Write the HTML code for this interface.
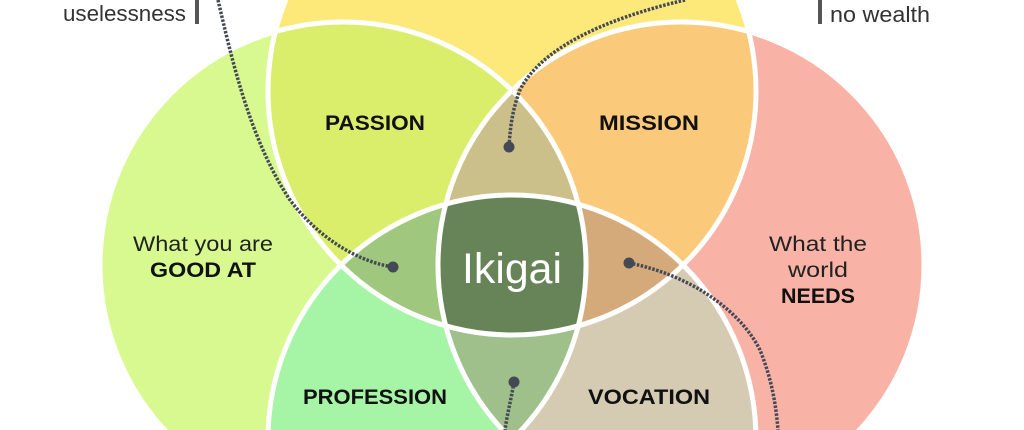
<!DOCTYPE html>
<html><head><meta charset="utf-8"><style>
html,body{margin:0;padding:0;background:#fff;width:1024px;height:430px;overflow:hidden}
svg{display:block;overflow:hidden}
text{font-family:"Liberation Sans","DejaVu Sans",sans-serif}
</style></head><body>
<svg width="1024" height="430" viewBox="0 0 1024 430" xmlns="http://www.w3.org/2000/svg">
<defs>
<clipPath id="cT"><circle cx="512" cy="91" r="244"/></clipPath>
<clipPath id="cL"><circle cx="343" cy="265" r="243"/></clipPath>
<clipPath id="cR"><circle cx="681" cy="265" r="243"/></clipPath>
<clipPath id="cB"><circle cx="512" cy="439" r="244"/></clipPath>
</defs>
<circle cx="343" cy="265" r="243" fill="#d8f98f"/>
<circle cx="681" cy="265" r="243" fill="#f9b2a6"/>
<circle cx="512" cy="439" r="244" fill="#c4dca8"/>
<circle cx="512" cy="91" r="244" fill="#fde97a"/>
<g clip-path="url(#cT)"><rect width="1024" height="430" fill="#dbee6c" clip-path="url(#cL)"/></g>
<g clip-path="url(#cT)"><rect width="1024" height="430" fill="#fbc97a" clip-path="url(#cR)"/></g>
<g clip-path="url(#cB)"><rect width="1024" height="430" fill="#a6f5a6" clip-path="url(#cL)"/></g>
<g clip-path="url(#cB)"><rect width="1024" height="430" fill="#d5cbb3" clip-path="url(#cR)"/></g>
<g clip-path="url(#cT)"><g clip-path="url(#cL)"><rect width="1024" height="430" fill="#cbbf8a" clip-path="url(#cR)"/></g></g>
<g clip-path="url(#cB)"><g clip-path="url(#cL)"><rect width="1024" height="430" fill="#9fc08a" clip-path="url(#cR)"/></g></g>
<g clip-path="url(#cT)"><g clip-path="url(#cL)"><rect width="1024" height="430" fill="#a0c77e" clip-path="url(#cB)"/></g></g>
<g clip-path="url(#cT)"><g clip-path="url(#cR)"><rect width="1024" height="430" fill="#d5aa7a" clip-path="url(#cB)"/></g></g>
<g clip-path="url(#cT)"><g clip-path="url(#cL)"><g clip-path="url(#cR)"><rect width="1024" height="430" fill="#668458" clip-path="url(#cB)"/></g></g></g>
<g fill="none" stroke="#fff" stroke-width="5">
<circle cx="343" cy="265" r="243"/>
<circle cx="681" cy="265" r="243"/>
<circle cx="512" cy="439" r="244"/>
<circle cx="512" cy="91" r="244"/>
</g>
<g fill="none" stroke="#444a55" stroke-width="3.5" stroke-dasharray="2.5 1.5">
<path d="M218 0 C232 60 250 140 290 200 C320 240 360 262 393 267"/>
<path d="M685 0 C600 20 540 50 520 90 C512 110 510 130 509 147"/>
<path d="M629 263 C690 275 740 310 760 350 C772 380 776 405 778 430"/>
<path d="M514 382 C511 400 507 415 505 430"/>
</g>
<g fill="#444a55">
<circle cx="393" cy="267" r="5.5"/>
<circle cx="509" cy="147" r="5.5"/>
<circle cx="629" cy="263" r="5.5"/>
<circle cx="514" cy="382" r="5.5"/>
</g>
<rect x="195" y="0" width="4" height="24" fill="#555"/>
<text x="186" y="21" font-size="22" fill="#333" text-anchor="end" textLength="123" lengthAdjust="spacingAndGlyphs">uselessness</text>
<rect x="818" y="0" width="4" height="24" fill="#555"/>
<text x="830" y="22" font-size="22" fill="#333" textLength="100" lengthAdjust="spacingAndGlyphs">no wealth</text>
<g font-weight="bold" font-size="21" fill="#111" text-anchor="middle">
<text x="375" y="130" textLength="100" lengthAdjust="spacingAndGlyphs">PASSION</text>
<text x="649" y="130" textLength="100" lengthAdjust="spacingAndGlyphs">MISSION</text>
<text x="375" y="404" textLength="144" lengthAdjust="spacingAndGlyphs">PROFESSION</text>
<text x="649" y="404" textLength="122" lengthAdjust="spacingAndGlyphs">VOCATION</text>
<text x="203" y="277" textLength="106" lengthAdjust="spacingAndGlyphs">GOOD AT</text>
<text x="818" y="303" textLength="74" lengthAdjust="spacingAndGlyphs">NEEDS</text>
</g>
<g font-size="21" fill="#222" text-anchor="middle">
<text x="203" y="251" textLength="140" lengthAdjust="spacingAndGlyphs">What you are</text>
<text x="818" y="251" textLength="98" lengthAdjust="spacingAndGlyphs">What the</text>
<text x="818" y="277" textLength="60" lengthAdjust="spacingAndGlyphs">world</text>
</g>
<text x="512" y="283" font-size="43" fill="#fff" text-anchor="middle" textLength="100" lengthAdjust="spacingAndGlyphs">Ikigai</text>
</svg>
</body></html>
